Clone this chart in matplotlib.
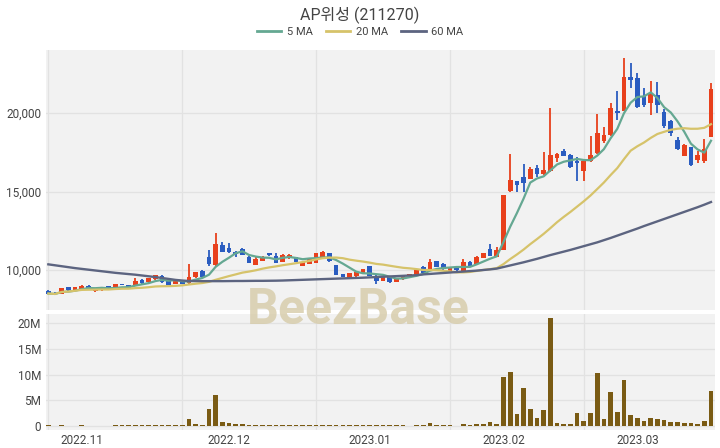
import matplotlib
matplotlib.use('Agg')
import matplotlib.pyplot as plt
import numpy as np
import pandas as pd
from matplotlib.lines import Line2D
from matplotlib.ticker import FuncFormatter

plt.rcParams['font.family'] = ['Roboto', 'Noto Sans CJK KR', 'DejaVu Sans']

title = 'AP위성 (211270)'
holidays = ['2022-12-30', '2023-01-23', '2023-01-24', '2023-03-01']
dates = pd.bdate_range('2022-10-25', '2023-03-17')
dates = dates[~dates.isin(pd.to_datetime(holidays))]

open_ = [8650, 8550, 8480, 8900, 8700, 8800, 9000, 8650, 8700, 8980,
         8800, 9100, 9050, 9050, 9360, 9220, 9410, 9620, 9320, 9110,
         9340, 9150, 9540, 9940, 10800, 10320, 11590, 11400, 11170, 11320,
         10850, 10350, 10600, 11060, 10890, 10530, 10750, 10800, 10260, 10380,
         10470, 10850, 11060, 10320, 9740, 9480, 9590, 9840, 10250, 9640,
         9330, 9620, 9260, 9410, 9650, 9690, 10200, 9960, 10570, 10360,
         9960, 10200, 9960, 10530, 10390, 10790, 11340, 10830, 11300, 15050,
         15650, 15950, 15820, 16470, 16100, 16300, 17150, 17580, 17330, 16950,
         16330, 16950, 17430, 18240, 18600, 20130, 20150, 22300, 22200, 21100,
         20660, 21150, 20040, 19490, 18280, 17270, 17810, 17010, 16970, 18500]
high = [8700, 8600, 8880, 8930, 8930, 9050, 9030, 8830, 8850, 9000,
        9100, 9120, 9070, 9500, 9400, 9480, 9700, 9650, 9340, 9360,
        9360, 10400, 9870, 9970, 11300, 12330, 11800, 11700, 11200, 11420,
        10880, 10890, 10920, 11100, 11060, 11000, 11000, 10830, 10550, 10720,
        11080, 11200, 11100, 10340, 9760, 9800, 9910, 10060, 10270, 9660,
        9590, 9640, 9490, 9700, 9760, 10020, 10230, 10680, 10600, 10450,
        10180, 10260, 10700, 10560, 10870, 11080, 11650, 11450, 14800, 17370,
        15700, 16750, 16580, 16690, 17540, 20300, 17450, 17690, 17400, 17220,
        17000, 18550, 19930, 19080, 20660, 21420, 23480, 23200, 22570, 21570,
        22060, 21950, 20230, 19550, 18450, 18000, 17850, 17600, 18320, 21890]
low = [8450, 8380, 8450, 8680, 8680, 8780, 8780, 8620, 8680, 8730,
       8780, 9020, 8830, 9030, 9140, 9200, 9390, 9200, 9040, 9090,
       9090, 9100, 9520, 9560, 10280, 10250, 11150, 11100, 10850, 10950,
       10420, 10330, 10560, 10900, 10450, 10500, 10730, 10520, 10240, 10360,
       10450, 10800, 10520, 9670, 9540, 9460, 9570, 9820, 9610, 9100,
       9310, 9200, 9240, 9390, 9630, 9670, 9810, 9940, 10200, 10030,
       9940, 9960, 9940, 10240, 10370, 10770, 10880, 10800, 11250, 15000,
       14950, 14970, 15780, 15900, 16050, 16250, 16900, 17250, 16500, 15650,
       15700, 16900, 17400, 18100, 18550, 19560, 20100, 21570, 20300, 20400,
       19870, 19980, 19020, 18530, 17650, 17230, 16650, 16840, 16800, 18450]
close = [8500, 8450, 8850, 8700, 8900, 9000, 8800, 8800, 8830, 8750,
         9080, 9030, 8850, 9320, 9160, 9460, 9680, 9230, 9060, 9340,
         9110, 9580, 9850, 9580, 10380, 11630, 11170, 11170, 11000, 10980,
         10450, 10680, 10850, 10930, 10470, 10950, 10950, 10540, 10530, 10700,
         11060, 11170, 10550, 9690, 9560, 9780, 9890, 10040, 9630, 9330,
         9570, 9260, 9470, 9680, 9740, 10000, 9830, 10530, 10220, 10050,
         10160, 10000, 10530, 10260, 10850, 11060, 10900, 11300, 14780, 15730,
         15400, 15520, 16410, 16100, 16400, 17300, 17400, 17280, 16550, 16840,
         16960, 17330, 18750, 18600, 20300, 19980, 22310, 22100, 20400, 20520,
         21250, 20510, 19170, 18710, 17710, 17960, 16690, 17330, 17690, 21500]
volume_m = [0.08, 0.06, 0.12, 0.07, 0.06, 0.08, 0.05, 0.06, 0.05, 0.06,
            0.10, 0.15, 0.08, 0.25, 0.15, 0.15, 0.20, 0.15, 0.10, 0.08,
            0.10, 1.35, 0.30, 0.20, 3.30, 6.00, 0.70, 0.65, 0.30, 0.30,
            0.20, 0.20, 0.20, 0.15, 0.20, 0.15, 0.10, 0.08, 0.15, 0.20,
            0.25, 0.20, 0.20, 0.10, 0.20, 0.10, 0.10, 0.08, 0.10, 0.15,
            0.10, 0.10, 0.08, 0.08, 0.06, 0.08, 0.10, 0.60, 0.10, 0.08,
            0.10, 0.05, 0.35, 0.10, 0.35, 0.30, 0.70, 0.35, 9.60, 10.50,
            2.30, 7.30, 3.30, 1.60, 3.00, 21.00, 0.50, 0.35, 0.35, 2.50,
            1.00, 2.50, 10.30, 1.40, 6.70, 2.80, 8.90, 2.20, 1.50, 0.90,
            1.60, 1.40, 1.20, 0.70, 0.70, 0.60, 0.60, 0.45, 1.00, 6.80]
ma60 = [10360, 10300, 10240, 10180, 10120, 10070, 10020, 9970, 9920, 9870,
        9820, 9780, 9740, 9700, 9650, 9600, 9550, 9490, 9430, 9370,
        9330, 9300, 9295, 9290, 9290, 9290, 9290, 9295, 9300, 9300,
        9305, 9310, 9310, 9315, 9320, 9330, 9345, 9360, 9375, 9390,
        9405, 9420, 9435, 9450, 9465, 9480, 9495, 9510, 9530, 9550,
        9570, 9590, 9610, 9630, 9650, 9670, 9720, 9750, 9780, 9810,
        9840, 9870, 9900, 9930, 9960, 10000, 10040, 10090, 10190, 10290,
        10390, 10490, 10600, 10710, 10830, 10950, 11060, 11170, 11280, 11400,
        11520, 11640, 11760, 11900, 12040, 12190, 12340, 12490, 12640, 12800,
        12950, 13100, 13250, 13400, 13550, 13700, 13850, 14000, 14160, 14330]

UP = '#e8401c'
DOWN = '#2a5cc0'
VOLC = '#7a5b14'
C5, C20, C60 = '#65a892', '#d6c36a', '#5c6480'
TXT = '#444444'

df = pd.DataFrame({'open': open_, 'high': high, 'low': low, 'close': close,
                   'vol': np.array(volume_m) * 1e6, 'ma60': ma60}, index=dates)
df['ma5'] = df['close'].rolling(5, min_periods=1).mean()
df['ma20'] = df['close'].rolling(20, min_periods=1).mean()
x = np.arange(len(df))

fig = plt.figure(figsize=(7.2, 4.48), dpi=100)
ax = fig.add_axes([46/720, 1-310/448, (715-46)/720, (310-50)/448])
axv = fig.add_axes([46/720, 1-430/448, (715-46)/720, (430-314)/448])

for a in (ax, axv):
    a.set_facecolor('#f2f2f2')
    for s in a.spines.values():
        s.set_visible(False)
    a.tick_params(length=0, colors=TXT, labelsize=8.5)
    a.set_xlim(-0.35, 99.6)
    a.set_xticks([0, 20, 40, 60, 80], minor=False)
    a.grid(True, axis='both', color='#e2e2e2', lw=0.9)
    a.set_axisbelow(True)

up = df['close'] >= df['open']
colors = np.where(up, UP, DOWN)
body_bot = np.minimum(df['open'], df['close'])
body_h = np.maximum(np.abs(df['close'] - df['open']), 40)
ax.vlines(x, df['low'], df['high'], colors=colors, lw=1.3, zorder=2)
ax.bar(x, body_h, bottom=body_bot, width=0.7, color=colors, zorder=3)
ax.plot(x, df['ma5'], color=C5, lw=1.6, zorder=4)
ax.plot(x, df['ma20'], color=C20, lw=1.6, zorder=4)
ax.plot(x, df['ma60'], color=C60, lw=1.7, zorder=4)
ax.set_ylim(7452, 24014)
ax.set_yticks([10000, 15000, 20000])
ax.yaxis.set_major_formatter(FuncFormatter(lambda v, p: f'{int(v):,}'))
ax.set_xticklabels([])

axv.bar(x, df['vol'], width=0.7, color=VOLC, zorder=3)
axv.set_ylim(-0.8e6, 21.8e6)
axv.set_yticks([0, 5e6, 10e6, 15e6, 20e6])
axv.yaxis.set_major_formatter(FuncFormatter(lambda v, p: '0' if v == 0 else f'{int(v/1e6)}M'))
axv.set_xticklabels([])

month_idx = [i for i in range(1, len(dates)) if dates[i].month != dates[i-1].month]
for i in month_idx:
    axv.text(i, -0.035, dates[i].strftime('%Y.%m'), transform=axv.get_xaxis_transform(),
             ha='center', va='top', fontsize=8.5, color=TXT)

fig.text(0.5, 1-15/448, title, ha='center', va='center', fontsize=11.5, color=TXT)
handles = [Line2D([], [], color=c, lw=2) for c in (C5, C20, C60)]
fig.legend(handles, ['5 MA', '20 MA', '60 MA'], loc='center', bbox_to_anchor=(0.5, 1-32/448),
           ncol=3, frameon=False, fontsize=8, labelcolor=TXT, handlelength=2.2,
           columnspacing=1.2, handletextpad=0.5)

fig.text(358/720, 1-310/448, 'BeezBase', ha='center', va='center', fontsize=36,
         fontweight='bold', color='#d6cba8', alpha=0.8, family=['Roboto', 'DejaVu Sans'], zorder=10)

fig.savefig('out.png', dpi=100, facecolor='white')
